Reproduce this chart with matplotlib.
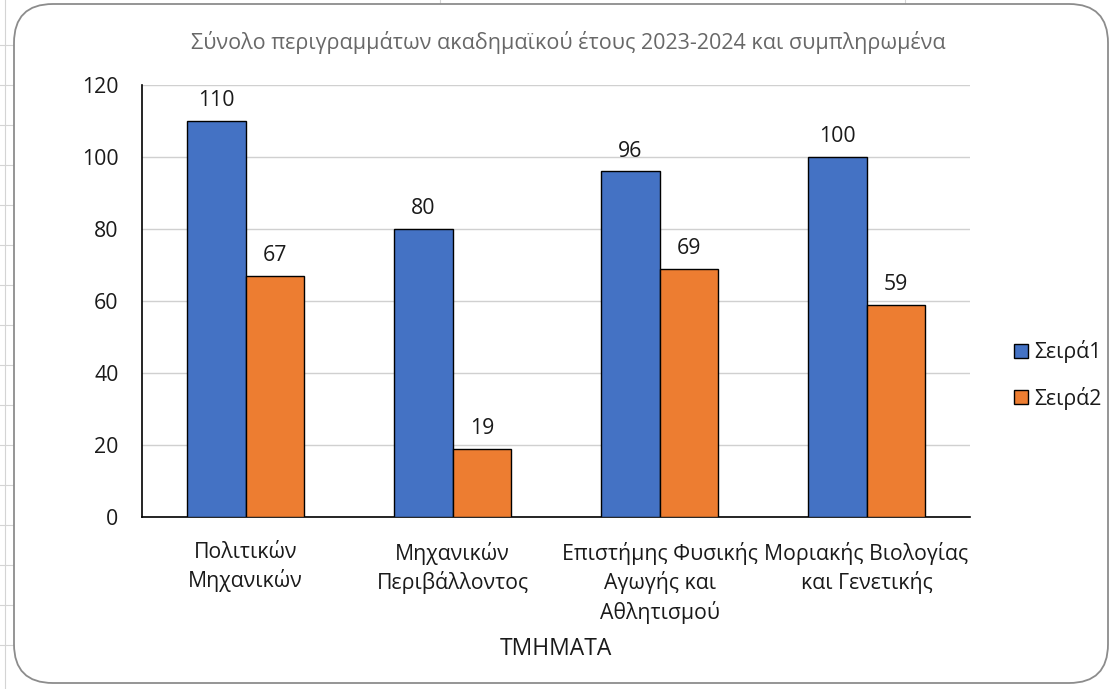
import matplotlib
matplotlib.use("Agg")
import matplotlib.pyplot as plt
import numpy as np
from matplotlib.patches import FancyBboxPatch
from matplotlib.lines import Line2D

categories = ["Πολιτικών\nΜηχανικών", "Μηχανικών\nΠεριβάλλοντος",
              "Επιστήμης Φυσικής\nΑγωγής και\nΑθλητισμού", "Μοριακής Βιολογίας\nκαι Γενετικής"]
series1 = [110, 80, 96, 100]
series2 = [67, 19, 69, 59]
series_names = ["Σειρά1", "Σειρά2"]
yticks = [0, 20, 40, 60, 80, 100, 120]
title = "Σύνολο περιγραμμάτων ακαδημαϊκού έτους 2023-2024 και συμπληρωμένα"
xlabel = "ΤΜΗΜΑΤΑ"

plt.rcParams['font.family'] = ['Open Sans', 'DejaVu Sans']
FS = 15.3

W, H = 1110, 689
fig = plt.figure(figsize=(W / 100, H / 100), dpi=100)
fig.patch.set_facecolor("white")

# spreadsheet gridlines in background
for y in [45, 85, 125, 165, 205, 245, 285, 325, 365, 405, 445, 485, 525, 565, 605, 645]:
    fig.add_artist(Line2D([0, 14 / W], [1 - y / H, 1 - y / H], color="#d4d4d4", lw=0.8,
                          transform=fig.transFigure, zorder=-20))
for x in [440, 905]:
    fig.add_artist(Line2D([x / W, x / W], [1 - 6 / H, 1], color="#d4d4d4", lw=0.8,
                          transform=fig.transFigure, zorder=-20))
fig.add_artist(Line2D([5 / W, 5 / W], [0, 1], color="#d4d4d4", lw=0.8,
                      transform=fig.transFigure, zorder=-20))

# rounded chart border
border = FancyBboxPatch((14 / W, 6 / H), (1108 - 14) / W, (685 - 6) / H,
                        boxstyle="round,pad=0,rounding_size=0.035",
                        transform=fig.transFigure, facecolor="white",
                        edgecolor="#8c8c8c", lw=1.3, mutation_aspect=W / H, zorder=-10)
fig.add_artist(border)

ax = fig.add_axes([142 / W, 1 - 517 / H, (970 - 142) / W, (517 - 85) / H])
ax.set_facecolor("none")
x = np.arange(len(categories))
bw = 0.285
b1 = ax.bar(x - bw / 2, series1, bw, color="#4472C4", edgecolor="black", lw=1.0, label=series_names[0], zorder=3)
b2 = ax.bar(x + bw / 2, series2, bw, color="#ED7D31", edgecolor="black", lw=1.0, label=series_names[1], zorder=3)
for bars in (b1, b2):
    ax.bar_label(bars, padding=7, fontsize=FS, color="#1a1a1a")

ax.set_xlim(-0.5, len(categories) - 0.5)
ax.set_ylim(0, 120)
ax.set_yticks(yticks)
ax.set_yticklabels([str(v) for v in yticks], fontsize=FS, color="#1a1a1a")
ax.yaxis.grid(True, color="#d0d0d0", lw=1.0, zorder=0)
ax.set_axisbelow(True)
ax.tick_params(axis="both", length=0)
ax.tick_params(axis="y", pad=17)
ax.set_xticks(x)
ax.set_xticklabels(categories, fontsize=FS, color="#1a1a1a", linespacing=1.35)
ax.tick_params(axis="x", pad=18)
for s in ["top", "right"]:
    ax.spines[s].set_visible(False)
ax.spines["left"].set_color("black")
ax.spines["bottom"].set_color("black")
ax.spines["left"].set_linewidth(1.2)
ax.spines["bottom"].set_linewidth(1.2)

fig.text(568 / W, 1 - 42 / H, title, ha="center", va="center", fontsize=15.5, color="#686868")
fig.text(556 / W, 1 - 649 / H, xlabel, ha="center", va="center", fontsize=16.5, color="#1a1a1a")

leg = fig.legend(handles=[b1, b2], labels=series_names, loc="center left",
                 bbox_to_anchor=(995 / W, 1 - 375 / H), frameon=False, fontsize=FS,
                 handlelength=0.65, handleheight=0.65, handletextpad=0.3, labelspacing=1.1)
for t in leg.get_texts():
    t.set_color("#1a1a1a")

fig.savefig("out.png", dpi=100, facecolor="white")
